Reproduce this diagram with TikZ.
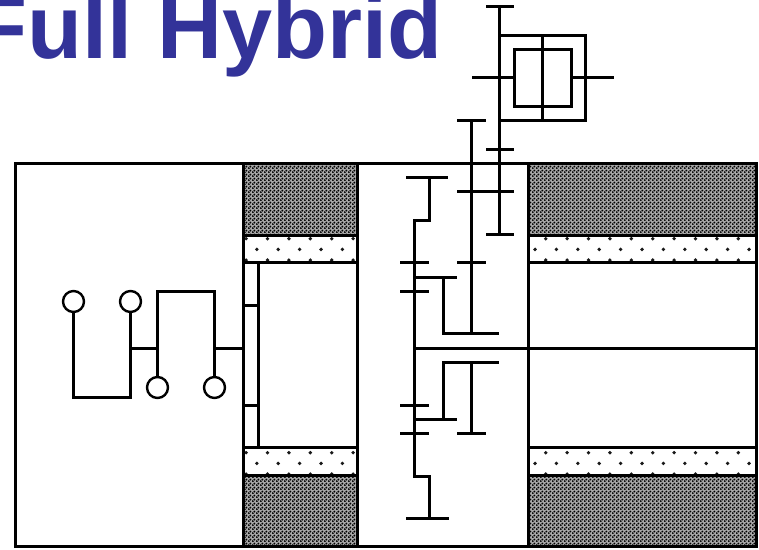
\documentclass[tikz,border=0pt]{standalone}
\usepackage{fontspec}
\setmainfont{Liberation Sans}
\usetikzlibrary{patterns}
\definecolor{titleblue}{RGB}{51,51,153}
\pgfdeclarepatternformonly{sparsedots}{\pgfqpoint{-2pt}{-2pt}}{\pgfqpoint{19.4pt}{19.4pt}}{\pgfqpoint{21.4pt}{21.4pt}}{
  \pgfpathcircle{\pgfqpoint{0pt}{0pt}}{1.9pt}
  \pgfpathcircle{\pgfqpoint{10.7pt}{10.7pt}}{1.9pt}
  \pgfusepath{fill}
}
\pgfdeclarepatternformonly{densedots}{\pgfqpoint{0pt}{0pt}}{\pgfqpoint{4pt}{4pt}}{\pgfqpoint{4pt}{4pt}}{
  \pgfpathcircle{\pgfqpoint{1pt}{1pt}}{1.25pt}
  \pgfpathcircle{\pgfqpoint{3pt}{3pt}}{1.25pt}
  \pgfusepath{fill}
}
\tikzset{
  wire/.style={line width=2.4pt, line join=miter},
  wheel/.style={circle, draw, line width=2.4pt, fill=white, inner sep=0pt, minimum size=21pt},
  housing/.style={draw, line width=2.4pt, preaction={fill=black!35}, pattern=densedots, pattern color=black},
  liner/.style={draw, line width=2.4pt, pattern=sparsedots, pattern color=black!90}
}
\begin{document}
\begin{tikzpicture}[x=1pt, y=-1pt]
\path[use as bounding box] (0,0) rectangle (759,549);
\node[anchor=base east, inner sep=0pt, text=titleblue, font=\bfseries\fontsize{90}{90}\selectfont] (title) at (443,58.5) {Full Hybrid};
% housing
\fill[white] (15.5,163.5) rectangle (756.5,546.5);
\draw[wire] (15.5,163.5) rectangle (756.5,546.5);
\draw[wire] (243.5,163.5) -- (243.5,546.5);
\draw[wire] (357.5,163.5) -- (357.5,546.5);
\draw[wire] (528.5,163.5) -- (528.5,546.5);
\path[housing] (243.5,163.5) rectangle (357.5,235.5);
\path[housing] (243.5,475.5) rectangle (357.5,546.5);
\path[housing] (528.5,163.5) rectangle (756.5,235.5);
\path[housing] (528.5,475.5) rectangle (756.5,546.5);
\path[liner] (243.5,235.5) rectangle (357.5,262.5);
\path[liner] (243.5,447.5) rectangle (357.5,475.5);
\path[liner] (528.5,235.5) rectangle (756.5,262.5);
\path[liner] (528.5,447.5) rectangle (756.5,475.5);
% engine
\node[wheel] (W1) at (73.5,301.5) {};
\node[wheel] (W2) at (130.5,301.5) {};
\node[wheel] (W3) at (157.5,387.5) {};
\node[wheel] (W4) at (214.5,387.5) {};
\draw[wire] (W1) -- (73.5,397.5) -- (130.5,397.5) -- (W2);
\draw[wire] (130.5,348.5) -- (157.5,348.5);
\draw[wire] (W3) -- (157.5,291.5) -- (214.5,291.5) -- (W4);
\draw[wire] (214.5,348.5) -- (243.5,348.5);
% clutch
\draw[wire] (258.5,262.5) -- (258.5,447.5);
\draw[wire] (243.5,305.5) -- (258.5,305.5);
\draw[wire] (243.5,405.5) -- (258.5,405.5);
% main shaft
\draw[wire] (406,177.5) -- (448,177.5);
\draw[wire] (429.5,177.5) -- (429.5,220.5) -- (414.5,220.5) -- (414.5,476.5) -- (429.5,476.5) -- (429.5,518.5);
\draw[wire] (406,518.5) -- (449,518.5);
\draw[wire] (414.5,348.5) -- (756.5,348.5);
\draw[wire] (400,262.5) -- (429,262.5);
\draw[wire] (400,291.5) -- (429,291.5);
\draw[wire] (400,405.5) -- (429,405.5);
\draw[wire] (400,433.5) -- (429,433.5);
% upper gears
\draw[wire] (414.5,277.5) -- (457,277.5);
\draw[wire] (443.5,277.5) -- (443.5,333.5) -- (499,333.5);
\draw[wire] (471.5,120.5) -- (471.5,333.5);
\draw[wire] (457,120.5) -- (486,120.5);
\draw[wire] (457,191.5) -- (514,191.5);
\draw[wire] (457,262.5) -- (486,262.5);
\draw[wire] (499.5,6.5) -- (499.5,234.5);
\draw[wire] (486,6.5) -- (514,6.5);
\draw[wire] (486,149.5) -- (514,149.5);
\draw[wire] (486,234.5) -- (514,234.5);
% lower gears
\draw[wire] (414.5,419.5) -- (457,419.5);
\draw[wire] (443.5,419.5) -- (443.5,362.5) -- (499,362.5);
\draw[wire] (471.5,362.5) -- (471.5,433.5);
\draw[wire] (457,433.5) -- (486,433.5);
% motor
\draw[wire] (499.5,35.5) rectangle (585.5,120.5);
\draw[wire] (514.5,49.5) rectangle (571.5,106.5);
\draw[wire] (542.5,35.5) -- (542.5,120.5);
\draw[wire] (472,77.5) -- (514.5,77.5);
\draw[wire] (571.5,77.5) -- (613.5,77.5);
\end{tikzpicture}
\end{document}
